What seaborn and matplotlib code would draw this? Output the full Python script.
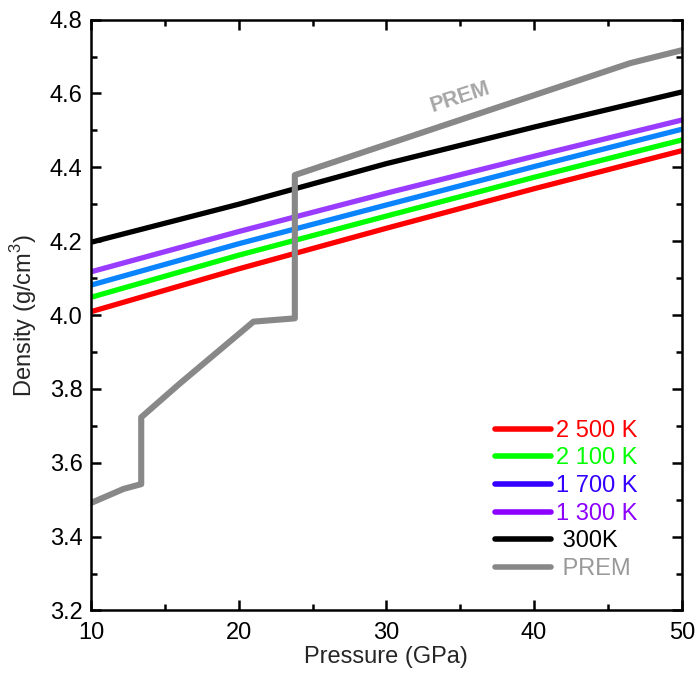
import matplotlib
matplotlib.use("Agg")
import matplotlib.pyplot as plt
from matplotlib.lines import Line2D
from matplotlib.ticker import MultipleLocator
import seaborn as sns
import pandas as pd

# ---- data ----
pressure = [10, 20, 30, 40, 50]
rho_2500 = [4.009, 4.125, 4.235, 4.342, 4.445]
rho_2100 = [4.048, 4.162, 4.268, 4.373, 4.474]
rho_1700 = [4.081, 4.193, 4.298, 4.402, 4.503]
rho_1300 = [4.117, 4.226, 4.330, 4.430, 4.528]
rho_300 = [4.197, 4.300, 4.410, 4.509, 4.604]

prem_p = [10.0, 12.2, 13.4, 13.4, 16.0, 21.0, 23.8, 23.8, 46.5, 50.0]
prem_rho = [3.491, 3.529, 3.542, 3.723, 3.814, 3.982, 3.991, 4.379, 4.682, 4.717]

labels = ["2 500 K", "2 100 K", "1 700 K", "1 300 K", " 300K", " PREM"]
line_colors = ["#ff0000", "#00ff00", "#0a84ff", "#9a3cff", "#000000", "#888888"]
legend_colors = ["#ff0000", "#00ff00", "#3300ff", "#8c00ff", "#000000", "#888888"]
text_colors = ["#ff0000", "#00ff00", "#3300ff", "#8c00ff", "#000000", "#999999"]

sns.set_style("ticks")
plt.rcParams["font.family"] = ["Liberation Sans", "DejaVu Sans"]
plt.rcParams["mathtext.fontset"] = "custom"
plt.rcParams["mathtext.rm"] = "Liberation Sans"

fig = plt.figure(figsize=(7.0, 6.76), dpi=100)
ax = fig.add_axes([0.13, 0.097, 0.844, 0.874])

series = [rho_2500, rho_2100, rho_1700, rho_1300, rho_300]
for vals, c in zip(series, line_colors[:5]):
    df = pd.DataFrame({"P": pressure, "rho": vals})
    sns.lineplot(data=df, x="P", y="rho", color=c, lw=3.8, ax=ax,
                 estimator=None, sort=False, legend=False)

dfp = pd.DataFrame({"P": prem_p, "rho": prem_rho})
sns.lineplot(data=dfp, x="P", y="rho", color=line_colors[5], lw=4.4, ax=ax,
             estimator=None, sort=False, legend=False)

ax.set_xlim(10, 50)
ax.set_ylim(3.2, 4.8)
ax.xaxis.set_major_locator(MultipleLocator(10))
ax.xaxis.set_minor_locator(MultipleLocator(5))
ax.yaxis.set_major_locator(MultipleLocator(0.2))
ax.yaxis.set_minor_locator(MultipleLocator(0.1))
ax.set_yticklabels([f"{v:.1f}" for v in ax.get_yticks()])

ax.tick_params(which="both", direction="in", top=True, right=True, width=1.8,
               labelsize=17, colors="black")
ax.tick_params(which="major", length=7)
ax.tick_params(which="minor", length=4)
ax.tick_params(axis="x", pad=8)
ax.tick_params(axis="y", pad=6)
for s in ax.spines.values():
    s.set_linewidth(1.8)
    s.set_color("black")

ax.set_xlabel("Pressure (GPa)", fontsize=17, labelpad=2)
ax.set_ylabel("Density (g/cm$^3$)", fontsize=17, labelpad=8)

ax.text(35.0, 4.59, "PREM", rotation=18, color="#a6a6a6", fontsize=15.5,
        fontweight="bold", ha="center", va="center")

handles = [Line2D([0], [0], color=c, lw=4.0, solid_capstyle="round")
           for c in legend_colors]
leg = ax.legend(handles, labels, loc="center", bbox_to_anchor=(0.804, 0.187),
                frameon=False, fontsize=17, handlelength=2.4,
                handletextpad=0.2, labelspacing=0.24, borderpad=0.2)
for t, c in zip(leg.get_texts(), text_colors):
    t.set_color(c)

fig.savefig("out.png", dpi=100)
